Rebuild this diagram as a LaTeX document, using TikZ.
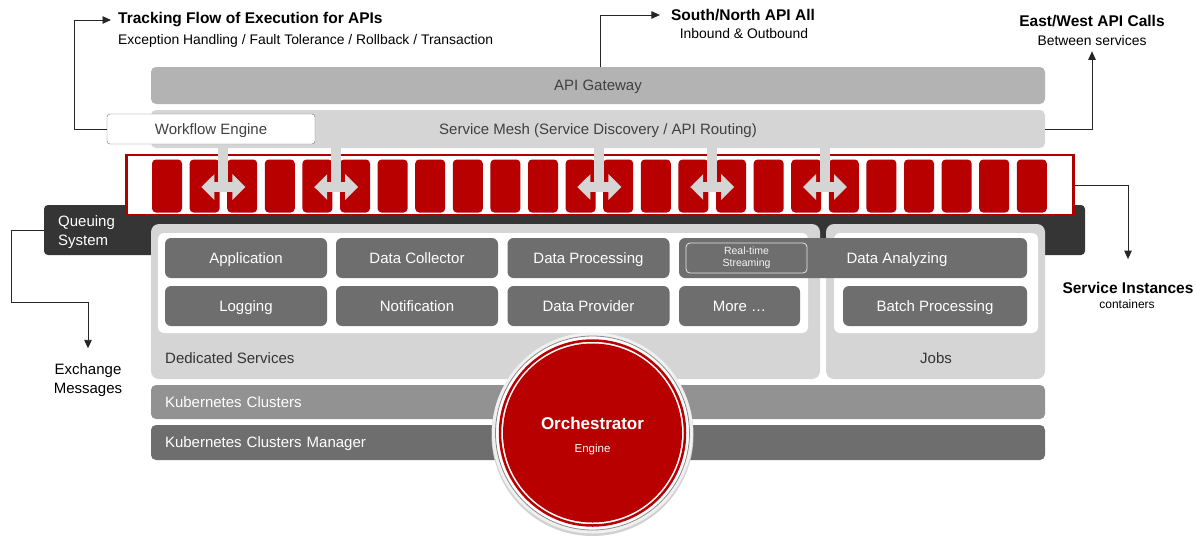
\documentclass[tikz,border=0pt]{standalone}
\usepackage{fontspec}
\setmainfont{Liberation Sans}
\usepackage{tikz}
\usetikzlibrary{arrows.meta, positioning, calc}
\definecolor{ored}{HTML}{B80000}
\definecolor{framered}{HTML}{AF0000}
\definecolor{meshgray}{HTML}{D5D5D5}
\definecolor{gwgray}{HTML}{B3B3B3}
\definecolor{kubegray}{HTML}{929292}
\definecolor{boxgray}{HTML}{6E6E6E}
\definecolor{queuegray}{HTML}{353535}
\definecolor{darkgrey}{HTML}{333333}

\begin{document}
\begin{tikzpicture}[
        x=1pt, y=-1pt,
        bar/.style={rectangle, rounded corners=5pt, minimum width=894pt, inner sep=0pt, text height=10.7pt, text depth=0pt, font=\fontsize{15}{18}\selectfont},
        panel/.style={rectangle, rounded corners=8pt, fill=meshgray, minimum height=155pt},
        innerpanel/.style={rectangle, rounded corners=6pt, fill=white, minimum height=100pt},
        svc/.style={rectangle, rounded corners=6pt, fill=boxgray, text=white, minimum width=162pt, minimum height=40pt, inner sep=0pt, text height=10.7pt, text depth=0pt, font=\fontsize{15}{18}\selectfont},
        inst/.style={rectangle, rounded corners=4pt, fill=ored, minimum width=30pt, minimum height=53pt, inner sep=0pt},
        stem/.style={draw=meshgray, line width=10pt},
        darrow/.style={draw=meshgray, line width=10pt, {Triangle[width=25pt,length=13pt]}-{Triangle[width=25pt,length=13pt]}},
        line/.style={draw, line width=0.9pt, color=black!85, ->, >={Triangle[width=7.5pt,length=8.5pt]}},
        title/.style={inner sep=0pt, font=\bfseries\fontsize{15.5}{18}\selectfont},
        sub/.style={inner sep=0pt, font=\fontsize{13.9}{16}\selectfont},
        plain/.style={inner sep=0pt, text=darkgrey, text height=10.7pt, text depth=0pt, font=\fontsize{15}{18}\selectfont}
    ]
        \useasboundingbox (0,0) rectangle (1196,536);

        % Queuing system (sits behind the rest)
        \node [rectangle, rounded corners=4pt, fill=queuegray, minimum width=1041pt, minimum height=50pt] (queue) at (564.5,230) {};
        \node [inner sep=0pt, anchor=west, text=white, align=left, font=\fontsize{15}{19}\selectfont] (queuelbl) at (58,232) {Queuing\\System};

        % API layers
        \node [bar, fill=gwgray, minimum height=37pt, text=black!75] (gw) at (598,85.5) {API Gateway};
        \node [bar, fill=meshgray, minimum height=38pt, text=black!75] (mesh) at (598,129) {Service Mesh (Service Discovery / API Routing)};
        \node [rectangle, rounded corners=3pt, draw=black!55, fill=white, minimum width=208pt, minimum height=30pt, text height=10.7pt, text depth=0pt, text=black!75, font=\fontsize{15}{18}\selectfont] (wf) at (211,129) {Workflow Engine};

        % Service instances
        \node [rectangle, draw=framered, line width=2.5pt, fill=white, minimum width=947pt, minimum height=60pt] (frame) at (600,185) {};
        \foreach \i in {0,...,23}
            \node [inst] (c\i) at (167+37.6*\i,186) {};
        \foreach \a/\b in {1/2,4/5,11/12,14/15,17/18} {
            \coordinate (g\a) at ($(c\a.east)!0.5!(c\b.west)$);
            \draw [stem, shorten <=-2pt] (g\a |- mesh.south) -- (g\a);
            \draw [darrow] ([xshift=-22pt,yshift=-1pt]g\a) -- ([xshift=22pt,yshift=-1pt]g\a);
        }

        % Dedicated services / Jobs
        \node [panel, minimum width=669pt] (ded) at (485.5,301.5) {};
        \node [innerpanel, minimum width=650pt] (dedin) at (483,283) {};
        \node [panel, minimum width=219pt] (jobs) at (935.5,301.5) {};
        \node [innerpanel, minimum width=204pt] (jobsin) at (936,283) {};
        \node [plain, anchor=west] (dedlbl) at (165,358) {Dedicated Services};
        \node [plain] (jobslbl) at (936,358) {Jobs};

        \node [svc] (app) at (246,258) {Application};
        \node [svc] (coll) at (417,258) {Data Collector};
        \node [svc] (proc) at (588.5,258) {Data Processing};
        \node [svc, minimum width=348pt] (analyz) at (853,258) {};
        \node [inner sep=0pt, text=white, text height=10.7pt, text depth=0pt, font=\fontsize{15}{18}\selectfont] (analyzlbl) at (897,258) {Data Analyzing};
        \node [rectangle, rounded corners=4pt, draw=white!80!gray, line width=0.8pt, minimum width=121pt, minimum height=30pt, inner sep=0pt, align=center, text=white!92!gray, font=\fontsize{10.5}{12}\selectfont] (stream) at (746.5,258) {Real-time\\Streaming};
        \node [svc] (log) at (246,306) {Logging};
        \node [svc] (notif) at (417,306) {Notification};
        \node [svc] (prov) at (588.5,306) {Data Provider};
        \node [svc, minimum width=121pt] (more) at (739.5,306) {More \ldots};
        \node [svc, minimum width=184pt] (batch) at (935,306) {Batch Processing};

        % Kubernetes
        \node [bar, fill=kubegray, minimum height=34pt, text=white, text width=866pt, inner xsep=14pt, align=left] (kube) at (598,402) {Kubernetes Clusters};
        \node [bar, fill=boxgray, minimum height=35pt, text=white, text width=866pt, inner xsep=14pt, align=left] (kman) at (598,442.5) {Kubernetes Clusters Manager};

        % Orchestrator
        \coordinate (orchc) at (592.5,433);
        \fill [black!18] ([yshift=-2pt]orchc) circle (101pt);
        \fill [black!6] (orchc) circle (100.5pt);
        \draw [black!45, line width=0.8pt, fill=white] (orchc) circle (97pt);
        \draw [ored, line width=2.5pt] (orchc) circle (92.5pt);
        \node [circle, fill=ored, minimum size=179pt, inner sep=0pt] (orch) at (orchc) {};
        \node [inner sep=0pt, text=white, font=\bfseries\fontsize{17}{20}\selectfont] (orchlbl) at (592.5,423) {Orchestrator};
        \node [inner sep=0pt, text=white, font=\fontsize{11.5}{14}\selectfont] (orchsub) at (592.5,450) {Engine};

        % Outside labels
        \node [title, anchor=west] (track) at (118,20) {Tracking Flow of Execution for APIs};
        \node [sub, anchor=west] (tracksub) at (118,41) {Exception Handling / Fault Tolerance / Rollback / Transaction};
        \node [title] (north) at (743,15) {South/North API All};
        \node [sub] (northsub) at (744,34) {Inbound \& Outbound};
        \node [title] (east) at (1092,21) {East/West API Calls};
        \node [sub] (eastsub) at (1092,41) {Between services};
        \node [title] (svcinst) at (1128,288) {Service Instances};
        \node [sub, font=\fontsize{12}{14}\selectfont] (svcsub) at (1127,304) {containers};
        \node [inner sep=0pt, align=center, font=\fontsize{15}{19}\selectfont] (exch) at (88,380) {Exchange\\Messages};

        % Connections
        \draw [line] (wf.west) -- ++(-32,0) |- ([xshift=-7pt]track.west);
        \draw [line] ([xshift=2pt]gw.north) |- ([xshift=-11pt]north.west);
        \draw [line] (mesh.east) -| ([yshift=-5pt]eastsub.south);
        \draw [line] (queue.west) -- ++(-32,0) -- ++(0,72) -| ([yshift=15pt]exch.north);
        \draw [line] (frame.east) -| ([yshift=23pt]svcinst.north);

    \end{tikzpicture}
\end{document}
